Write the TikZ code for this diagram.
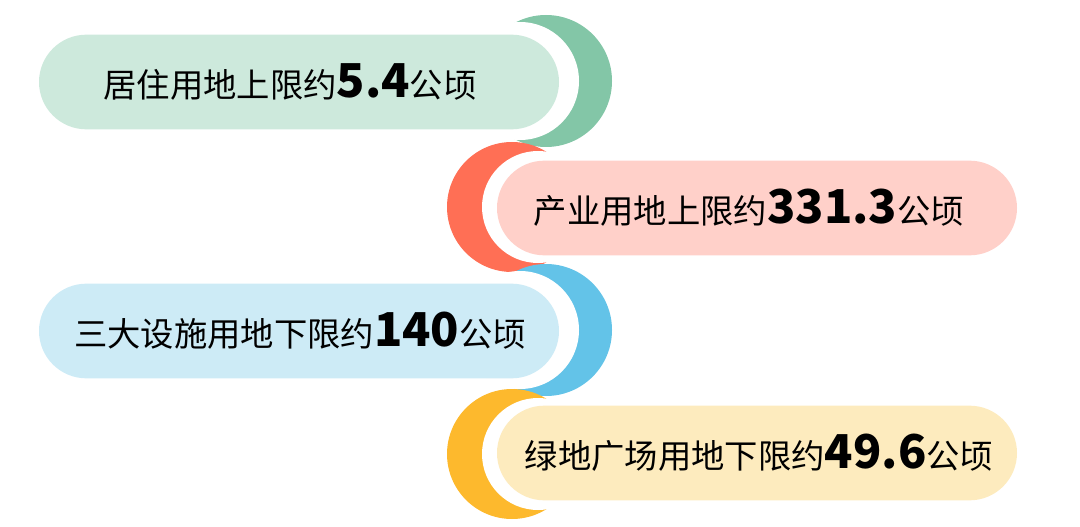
\documentclass[tikz,border=0pt]{standalone}
\usepackage{fontspec}
\newfontfamily\cjk{Noto Sans CJK SC}
\usetikzlibrary{shapes.misc}
\definecolor{gA}{HTML}{83C6A7}\definecolor{gB}{HTML}{CDE9DC}
\definecolor{rA}{HTML}{FF6F55}\definecolor{rB}{HTML}{FFD0C9}
\definecolor{bA}{HTML}{63C3E8}\definecolor{bB}{HTML}{CDEBF6}
\definecolor{yA}{HTML}{FDB92D}\definecolor{yB}{HTML}{FDEBBE}
\begin{document}
\begin{tikzpicture}[x=0.75pt,y=-0.75pt]

\tikzstyle{pill} = [rounded rectangle, minimum width=390pt, minimum height=71pt,
	inner sep=0pt, font=\cjk\fontsize{25}{28}\selectfont, text=black];
\newcommand{\num}[1]{{\bfseries\fontsize{35}{36}\selectfont #1}}
\useasboundingbox (0,0) rectangle (1080,527);

% right crescents
\fill[gA] (546,81) circle (66);
\fill[white] (520,81) circle (59);
\node[pill,fill=gB] (p1) at (299,82) {};
\node[font=\cjk\fontsize{25}{28}\selectfont] (t1) at (290,82) {居住用地上限约\num{5.4}公顷};

\fill[rA] (512,207) circle (65);
\fill[white] (538,207) circle (56);
\node[pill,fill=rB] (p2) at (757,208) {};
\node[font=\cjk\fontsize{25}{28}\selectfont] (t2) at (749,208) {产业用地上限约\num{331.3}公顷};

\fill[bA] (546,330) circle (66);
\fill[white] (520,330) circle (59);
\node[pill,fill=bB] (p3) at (299,331) {};
\node[font=\cjk\fontsize{25}{28}\selectfont] (t3) at (300,331) {三大设施用地下限约\num{140}公顷};

\fill[yA] (512,454) circle (65);
\fill[white] (538,454) circle (56);
\node[pill,fill=yB] (p4) at (757,453) {};
\node[font=\cjk\fontsize{25}{28}\selectfont] (t4) at (759,453) {绿地广场用地下限约\num{49.6}公顷};

\end{tikzpicture}
\end{document}
